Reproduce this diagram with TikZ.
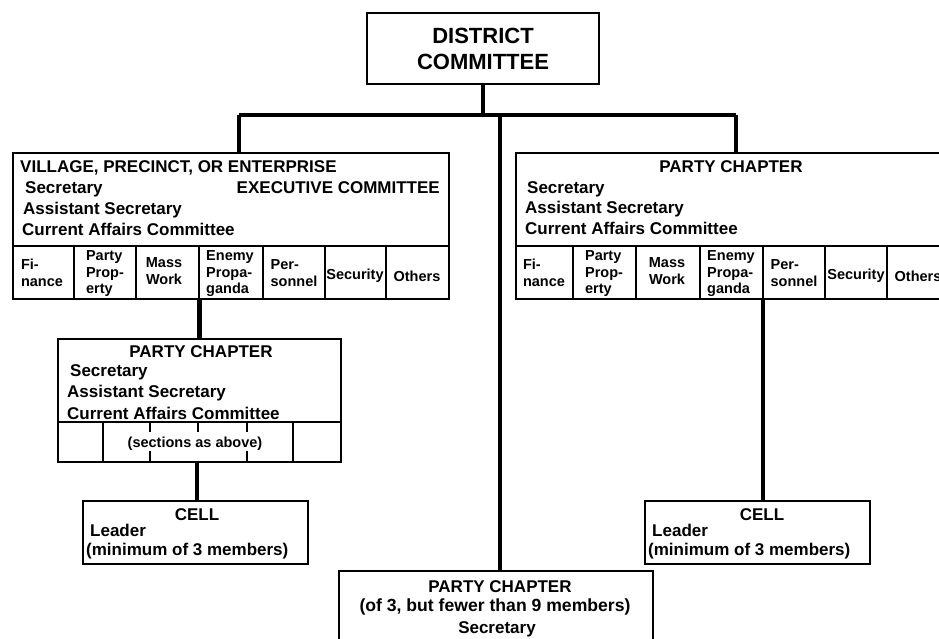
\documentclass[tikz,border=0pt]{standalone}
\usepackage{fontspec}
\setmainfont{Liberation Sans}
\begin{document}
\begin{tikzpicture}[x=1pt,y=-1pt,
  frame/.style={draw=black, line width=2pt, inner sep=0pt, anchor=north west},
  link/.style={line width=4.5pt},
  rule/.style={line width=2pt},
  headtext/.style={font=\bfseries\fontsize{22}{26}\selectfont, align=center, inner sep=0pt},
  bodytext/.style={font=\bfseries\fontsize{17}{20}\selectfont, inner sep=0pt},
  midtext/.style={bodytext, anchor=base},
  lefttext/.style={bodytext, anchor=base west},
  secttext/.style={font=\bfseries\fontsize{14.5}{16.5}\selectfont, align=left, inner sep=0pt},
]
\useasboundingbox (0,0) rectangle (939,638);

% ---------- boxes ----------
\node[frame, minimum width=232pt, minimum height=71pt]  (dc)    at (366,12)  {};
\node[frame, minimum width=436pt, minimum height=146pt] (vil)   at (12,152)  {};
\node[frame, minimum width=442pt, minimum height=146pt] (rch)   at (515,152) {};
\node[frame, minimum width=283pt, minimum height=123pt] (lch)   at (57,338)  {};
\node[frame, minimum width=225pt, minimum height=63pt]  (lcell) at (82,500)  {};
\node[frame, minimum width=225pt, minimum height=63pt]  (rcell) at (644,500) {};
\node[frame, minimum width=314pt, minimum height=100pt] (bot)   at (338,570) {};

% ---------- district committee ----------
\node[headtext] (dctext) at (dc.center) {DISTRICT\\COMMITTEE};

% ---------- bus and drops ----------
\coordinate (busL) at (239,115);
\coordinate (busM) at (500,115);
\coordinate (busR) at (736,115);
\coordinate (lcellin) at (197,500);
\coordinate (rcellin) at (763,500);
\draw[link] (dc.south) -- (dc.south |- busL);
\draw[link] (busL) -- (busR);
\draw[link] (busL) -- (busL |- vil.north);
\draw[link] (busR) -- (busR |- rch.north);
\draw[link] (busM) -- (busM |- bot.north);
\draw[link] (lch.north |- vil.south) -- (lch.north);
\draw[link] (lcellin |- lch.south) -- (lcellin);
\draw[link] (rcellin |- rch.south) -- (rcellin);

% ---------- village / precinct / enterprise ----------
\node[lefttext] (v1) at (20,172) {VILLAGE, PRECINCT, OR ENTERPRISE};
\node[lefttext] (v2) at (25,193) {Secretary};
\node[bodytext, anchor=base east] (v2r) at (440,193) {EXECUTIVE COMMITTEE};
\node[lefttext] (v3) at (23,214) {Assistant Secretary};
\node[lefttext] (v4) at (22,235) {Current Affairs Committee};
\draw[rule] (12,246) -- (448,246);
\foreach \x in {74,136,199,263,325,386} \draw[rule] (\x,246) -- (\x,298);
\node[secttext] (vs1) at (42,273)  {Fi-\\nance};
\node[secttext] (vs2) at (105,274) {Party\\Prop-\\erty};
\node[secttext, align=center] (vs3) at (164,271) {Mass\\Work};
\node[secttext] (vs4) at (230,274) {Enemy\\Propa-\\ganda};
\node[secttext] (vs5) at (294,273) {Per-\\sonnel};
\node[secttext] (vs6) at (355,276) {Security};
\node[secttext] (vs7) at (417,276) {Others};

% ---------- party chapter, right ----------
\node[midtext] (r1) at (731,172) {PARTY CHAPTER};
\node[lefttext] (r2) at (527,193) {Secretary};
\node[lefttext] (r3) at (525,213) {Assistant Secretary};
\node[lefttext] (r4) at (525,234) {Current Affairs Committee};
\draw[rule] (515,246) -- (957,246);
\foreach \x in {573,636,700,763,825,887} \draw[rule] (\x,246) -- (\x,298);
\node[secttext] (rs1) at (544,273) {Fi-\\nance};
\node[secttext] (rs2) at (604,274) {Party\\Prop-\\erty};
\node[secttext, align=center] (rs3) at (667,271) {Mass\\Work};
\node[secttext] (rs4) at (731,274) {Enemy\\Propa-\\ganda};
\node[secttext] (rs5) at (794,273) {Per-\\sonnel};
\node[secttext] (rs6) at (856,276) {Security};
\node[secttext] (rs7) at (918,276) {Others};

% ---------- party chapter, left ----------
\node[midtext] (l1) at (201,357) {PARTY CHAPTER};
\node[lefttext] (l2) at (70,376) {Secretary};
\node[lefttext] (l3) at (67,397) {Assistant Secretary};
\node[lefttext] (l4) at (67,419) {Current Affairs Committee};
\draw[rule] (57,422) -- (340,422);
\draw[rule] (103,422) -- (103,461);
\draw[rule] (293,422) -- (293,461);
\foreach \x in {150,198,247} \draw[rule] (\x,422) -- (\x,432);
\foreach \x in {150,247} \draw[rule] (\x,451) -- (\x,461);
\node[secttext, anchor=base] (ls) at (195,447) {(sections as above)};

% ---------- cells ----------
\node[midtext] (lc1) at (197,520) {CELL};
\node[lefttext] (lc2) at (90,536) {Leader};
\node[lefttext] (lc3) at (86,555) {(minimum of 3 members)};
\node[midtext] (rc1) at (762,520) {CELL};
\node[lefttext] (rc2) at (652,536) {Leader};
\node[lefttext] (rc3) at (648,555) {(minimum of 3 members)};

% ---------- party chapter, bottom ----------
\node[midtext] (b1) at (500,592) {PARTY CHAPTER};
\node[midtext, font=\bfseries\fontsize{17.6}{20}\selectfont] (b2) at (495,611) {(of 3, but fewer than 9 members)};
\node[midtext] (b3) at (497,633) {Secretary};
\end{tikzpicture}
\end{document}
